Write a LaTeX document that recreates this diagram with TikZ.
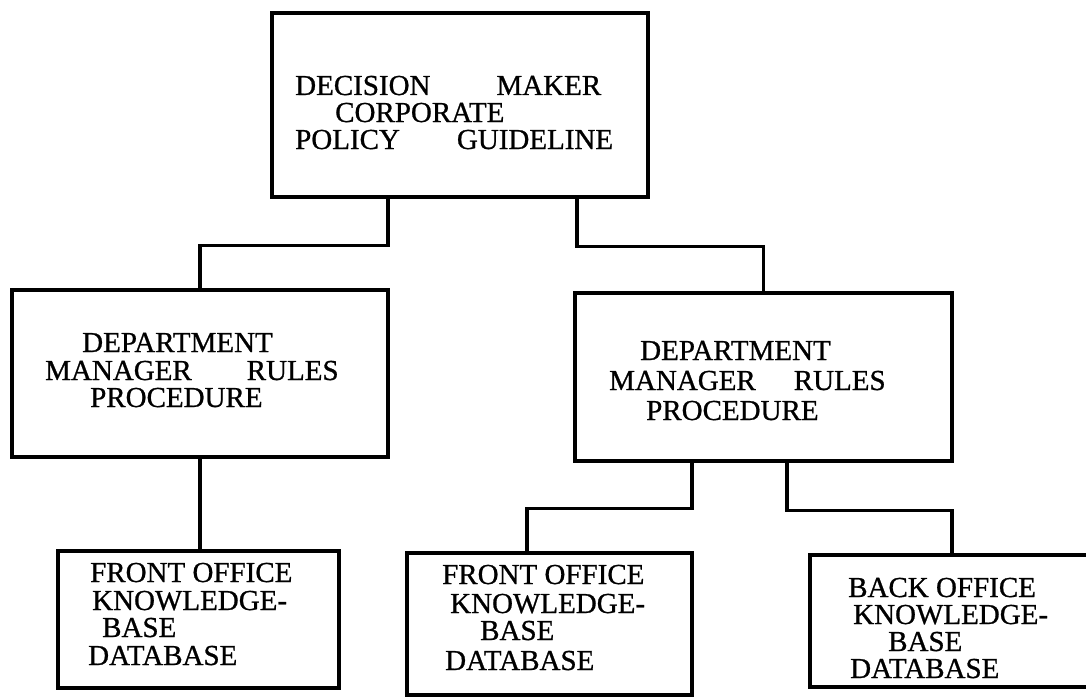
\documentclass[tikz,border=0pt]{standalone}
\usepackage{fontspec}
\setmainfont{Liberation Serif}[FakeBold=0.8]
\begin{document}
\begin{tikzpicture}[x=1pt,y=-1pt,
  box/.style={draw, line width=3.2pt, rectangle, inner sep=0pt},
  link/.style={line width=3.2pt},
  lbl/.style={anchor=base west, inner sep=0pt, font=\fontsize{29}{29}\selectfont}]
\useasboundingbox (0,0) rectangle (1086,698);
\clip (0,0) rectangle (1086,698);

% boxes of the hierarchy
\node[box, minimum width=376pt, minimum height=184pt] (top) at (460,105) {};
\node[box, minimum width=376pt, minimum height=167pt] (dl)  at (200,373.5) {};
\node[box, minimum width=377pt, minimum height=168pt] (dr)  at (763.5,377) {};
\node[box, minimum width=281pt, minimum height=137pt] (f1)  at (198.5,619.5) {};
\node[box, minimum width=285pt, minimum height=142pt] (f2)  at (549.5,624) {};
\node[box, minimum width=284pt, minimum height=132pt] (bo)  at (952,621) {};

% box texts
\node[lbl] (top1) at (295,95)  {DECISION\hspace{66pt}MAKER};
\node[lbl] (top2) at (335,122) {CORPORATE};
\node[lbl] (top3) at (295,149) {POLICY\hspace{57pt}GUIDELINE};

\node[lbl] (dl1) at (82,352)  {DEPARTMENT};
\node[lbl] (dl2) at (45,380)  {MANAGER\hspace{55pt}RULES};
\node[lbl] (dl3) at (90,407)  {PROCEDURE};

\node[lbl] (dr1) at (640,360) {DEPARTMENT};
\node[lbl] (dr2) at (609,390) {MANAGER\hspace{38pt}RULES};
\node[lbl] (dr3) at (646,420) {PROCEDURE};

\node[lbl] (f11) at (90,582)  {FRONT OFFICE};
\node[lbl] (f12) at (92,610)  {KNOWLEDGE-};
\node[lbl] (f13) at (102,637) {BASE};
\node[lbl] (f14) at (88,665)  {DATABASE};

\node[lbl] (f21) at (442,584) {FRONT OFFICE};
\node[lbl] (f22) at (450,613) {KNOWLEDGE-};
\node[lbl] (f23) at (480,640) {BASE};
\node[lbl] (f24) at (445,670) {DATABASE};

\node[lbl] (bo1) at (848,597) {BACK OFFICE};
\node[lbl] (bo2) at (853,624) {KNOWLEDGE-};
\node[lbl] (bo3) at (888,651) {BASE};
\node[lbl] (bo4) at (850,678) {DATABASE};

% connectors
\draw[link] ([xshift=-72pt]top.south) -- ++(0,47) -| (dl.north);
\draw[link] ([xshift=117pt]top.south) -- ++(0,48) -| (dr.north);
\draw[link] (dl.south) -- (dl.south |- f1.north);
\draw[link] ([xshift=-71.5pt]dr.south) -- ++(0,46) -| ([xshift=-22.5pt]f2.north);
\draw[link] ([xshift=23.5pt]dr.south) -- ++(0,48) -| (bo.north);
\end{tikzpicture}
\end{document}
